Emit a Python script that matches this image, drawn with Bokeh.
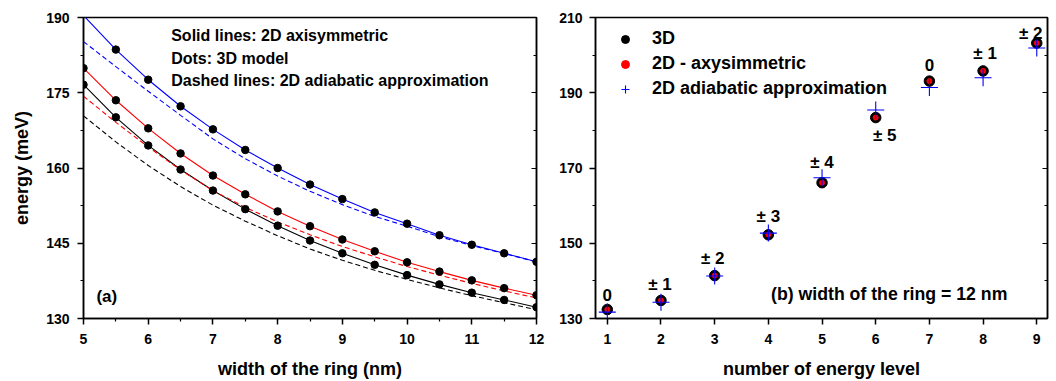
import math
from bokeh.plotting import figure
from bokeh.layouts import row
from bokeh.models import (Range1d, LinearAxis, Legend, LegendItem, Label,
                          ColumnDataSource, FixedTicker)
from bokeh.core.properties import value
from bokeh.embed import file_html
from bokeh.resources import INLINE

FONT = "Liberation Sans"
NAN = float("nan")

# ---------------- panel (a) data ----------------
width_nm = [5, 5.5, 6, 6.5, 7, 7.5, 8, 8.5, 9, 9.5, 10, 10.5, 11, 11.5, 12]

# 2D axisymmetric (solid lines)
axi_black = [176.6, 170.1, 164.5, 159.7, 155.5, 151.8, 148.5, 145.55, 143.0, 140.7, 138.65, 136.8, 135.15, 133.7, 132.25]
axi_red = [179.9, 173.5, 167.9, 162.9, 158.5, 154.75, 151.35, 148.4, 145.75, 143.4, 141.2, 139.35, 137.6, 136.05, 134.65]
axi_blue = [190.4, 183.6, 177.6, 172.3, 167.7, 163.6, 160.0, 156.7, 153.8, 151.15, 148.9, 146.6, 144.7, 143.0, 141.3]

# 3D model (dots)
dots_black = [176.6, 170.1, 164.5, 159.7, 155.5, 151.8, 148.5, 145.55, 143.0, 140.7, 138.65, 136.8, 135.15, 133.7, 132.25]
dots_red = [179.9, 173.5, 167.9, 162.9, 158.5, 154.75, 151.35, 148.4, 145.75, 143.4, 141.2, 139.35, 137.6, 136.05, 134.65]
dots_blue = [NAN, 183.6, 177.6, 172.3, 167.7, 163.6, 160.0, 156.7, 153.8, 151.15, 148.9, 146.6, 144.7, 143.0, 141.3]

# 2D adiabatic approximation (dashed lines)
adi_black = [170.4, 165.2, 160.5, 156.3, 152.6, 149.4, 146.5, 143.85, 141.6, 139.6, 137.8, 136.1, 134.55, 133.15, 131.75]
adi_red = [174.3, 169.1, 164.2, 159.6, 155.5, 152.15, 149.25, 146.7, 144.35, 142.3, 140.35, 138.65, 137.0, 135.5, 134.1]
adi_blue = [185.2, 180.2, 175.3, 170.5, 165.8, 161.85, 158.4, 155.35, 152.7, 150.35, 148.4, 146.3, 144.55, 142.95, 141.3]

# ---------------- panel (b) data ----------------
levels = [1, 2, 3, 4, 5, 6, 7, 8, 9]
e_3d = [132.4, 134.8, 141.4, 152.25, 166.1, 183.4, 193.1, 195.8, 203.2]
e_axi = [132.4, 134.8, 141.4, 152.3, 166.1, 183.4, 193.1, 195.8, 203.2]
e_adi = [131.7, 134.3, 141.3, 152.7, 167.4, 185.4, 191.4, 194.0, 201.9]
level_labels = ["0", "\u00b1 1", "\u00b1 2", "\u00b1 3", "\u00b1 4", "\u00b1 5", "0", "\u00b1 1", "\u00b1 2"]
# label placement offsets (pixels)
lab_dx = [0, -1, -2, 0, 0, 9, 0, 2, -6]
lab_dy = [-14, -16, -17, -18, -20, 18, -16, -17, -10]

BLUE = "#0000ff"
RED = "#ff0000"
BLACK = "#000000"


def style_axis(ax, label_size="14px"):
    ax.axis_line_width = 1.5
    ax.axis_line_color = BLACK
    ax.major_tick_line_width = 1.5
    ax.minor_tick_line_width = 1.2
    ax.major_tick_in = 0
    ax.major_tick_out = 6
    ax.minor_tick_in = 0
    ax.minor_tick_out = 3
    ax.major_label_text_font = FONT
    ax.major_label_text_font_style = "bold"
    ax.major_label_text_font_size = label_size
    ax.major_label_text_color = BLACK
    ax.axis_label_text_font = FONT
    ax.axis_label_text_font_style = "bold"
    ax.axis_label_text_font_size = "18px"
    ax.axis_label_text_color = BLACK


def inner_axis(ticker):
    ax = LinearAxis(ticker=ticker)
    ax.axis_line_width = 1.5
    ax.major_tick_line_width = 1.2
    ax.minor_tick_line_width = 1.0
    ax.major_tick_in = 5
    ax.major_tick_out = 0
    ax.minor_tick_in = 3
    ax.minor_tick_out = 0
    ax.major_label_text_font_size = "1px"
    ax.major_label_text_color = None
    ax.major_label_standoff = 0
    return ax


# ================= panel (a) =================
p1 = figure(width=556, height=381, x_range=Range1d(5, 12), y_range=Range1d(130, 190),
            output_backend="svg", toolbar_location=None,
            min_border_left=83, min_border_right=20, min_border_top=17, min_border_bottom=63)
p1.xgrid.visible = False
p1.ygrid.visible = False
p1.outline_line_color = BLACK
p1.outline_line_width = 1.5
p1.background_fill_color = "white"
p1.border_fill_color = "white"

xt1 = FixedTicker(ticks=[5, 6, 7, 8, 9, 10, 11, 12], minor_ticks=[5.5, 6.5, 7.5, 8.5, 9.5, 10.5, 11.5])
yt1 = FixedTicker(ticks=[130, 145, 160, 175, 190], minor_ticks=[137.5, 152.5, 167.5, 182.5])
p1.xaxis.ticker = xt1
p1.yaxis.ticker = yt1
style_axis(p1.xaxis[0])
style_axis(p1.yaxis[0])
p1.xaxis.axis_label = "width of the ring (nm)"
p1.yaxis.axis_label = "energy (meV)"
p1.xaxis.major_label_standoff = 9
p1.yaxis.major_label_standoff = 8
p1.xaxis.axis_label_standoff = 12
p1.yaxis.axis_label_standoff = 11
p1.add_layout(inner_axis(yt1), "right")

for ys, c in ((axi_black, BLACK), (axi_red, RED), (axi_blue, BLUE)):
    p1.line(width_nm, ys, line_color=c, line_width=1.1)
for ys, c in ((adi_black, BLACK), (adi_red, RED), (adi_blue, BLUE)):
    p1.line(width_nm, ys, line_color=c, line_width=1.1, line_dash="5 3")
for ys in (dots_black, dots_red, dots_blue):
    p1.scatter(width_nm, ys, size=7.5, fill_color=BLACK, line_color=BLACK)

for txt, yy in (("Solid lines: 2D axisymmetric", 186.5),
                ("Dots: 3D model", 181.9),
                ("Dashed lines: 2D adiabatic approximation", 177.5)):
    p1.add_layout(Label(x=6.355, y=yy, text=txt, text_font=FONT, text_font_style="bold",
                        text_font_size="16px", text_baseline="middle", text_color=BLACK))
p1.add_layout(Label(x=5.2, y=134.4, text="(a)", text_font=FONT, text_font_style="bold",
                    text_font_size="17px", text_baseline="middle", text_color=BLACK))

# ================= panel (b) =================
p2 = figure(width=500, height=381, x_range=Range1d(0.78, 9.2), y_range=Range1d(130, 210),
            output_backend="svg", toolbar_location=None,
            min_border_left=37, min_border_right=9, min_border_top=17, min_border_bottom=62)
p2.xgrid.visible = False
p2.ygrid.visible = False
p2.outline_line_color = BLACK
p2.outline_line_width = 1.5
p2.background_fill_color = "white"
p2.border_fill_color = "white"

xt2 = FixedTicker(ticks=levels, minor_ticks=[])
yt2 = FixedTicker(ticks=[130, 150, 170, 190, 210], minor_ticks=[140, 160, 180, 200])
p2.xaxis.ticker = xt2
p2.yaxis.ticker = yt2
style_axis(p2.xaxis[0])
style_axis(p2.yaxis[0])
p2.xaxis.axis_label = "number of energy level"
p2.xaxis.major_label_standoff = 9
p2.yaxis.major_label_standoff = 7
p2.xaxis.axis_label_standoff = 12
p2.add_layout(inner_axis(yt2), "right")

r3d = p2.scatter(levels, e_3d, size=10.5, fill_color=BLACK, line_color=BLACK)
raxi = p2.scatter(levels, e_axi, size=5, fill_color=RED, line_color=RED)
radi = p2.scatter(levels, e_adi, marker="cross", size=17, line_color=BLUE, line_width=1.1)

src = ColumnDataSource(dict(x=levels, y=e_3d, t=level_labels, dx=lab_dx, dy=lab_dy))
p2.text(x="x", y="y", text="t", x_offset="dx", y_offset="dy", source=src,
        text_font=value(FONT), text_font_style="bold", text_font_size="17px",
        text_align="center", text_baseline="middle", text_color=BLACK)

legend = Legend(items=[LegendItem(label="3D", renderers=[r3d]),
                       LegendItem(label="2D - axysimmetric", renderers=[raxi]),
                       LegendItem(label="2D adiabatic approximation", renderers=[radi])],
                location=(20, 219), orientation="vertical",
                padding=0, margin=0, spacing=4, glyph_width=20, glyph_height=20,
                label_height=20, label_standoff=17,
                label_text_font=FONT, label_text_font_style="bold", label_text_font_size="18px",
                label_text_color=BLACK, label_text_baseline="middle",
                border_line_alpha=0, background_fill_alpha=0)
p2.add_layout(legend)

p2.add_layout(Label(x=4.05, y=136.4, text="(b) width of the ring = 12 nm", text_font=FONT,
                    text_font_style="bold", text_font_size="17.7px", text_baseline="middle",
                    text_color=BLACK))

layout = row(p1, p2)
open("out.html", "w").write(file_html(layout, INLINE))
